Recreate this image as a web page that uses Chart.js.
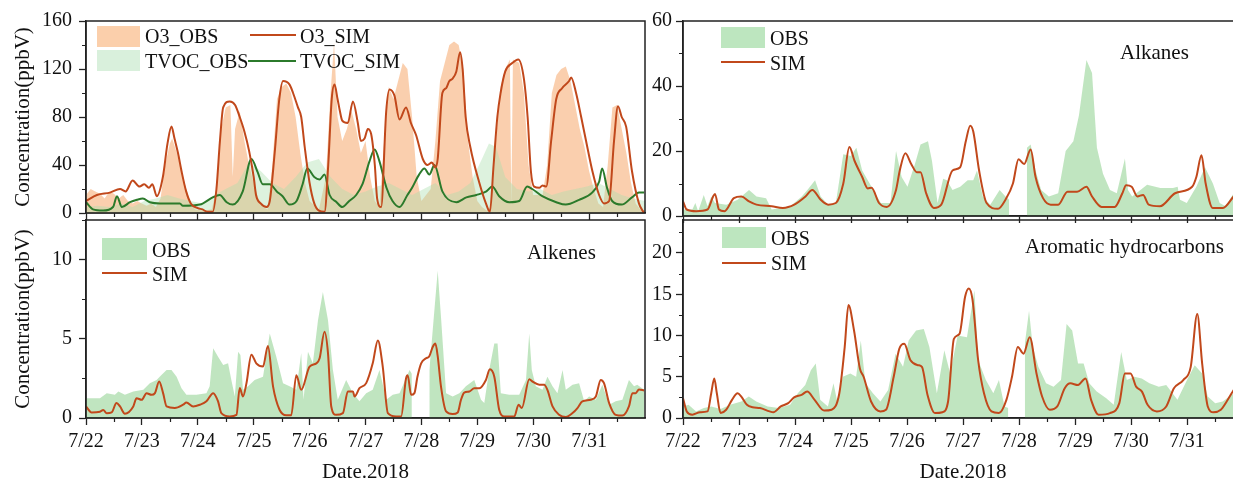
<!DOCTYPE html>
<html>
<head>
<meta charset="utf-8">
<script src="https://cdn.jsdelivr.net/npm/chart.js@4.4.0/dist/chart.umd.min.js"></script>
<style>
  html, body { margin: 0; padding: 0; background: #fff; overflow: hidden; }
  #wrap { position: relative; width: 1233px; height: 485px; overflow: hidden;
          font-family: "Liberation Serif", "Times New Roman", serif; color: #111; }
  canvas { position: absolute; }
  .txt { position: absolute; font-size: 20px; line-height: 20px; white-space: nowrap; }
  .patch { position: absolute; }
  .ln { position: absolute; height: 2px; }
</style>
</head>
<body>
<div id="wrap">
  <canvas id="tl" width="660" height="232" style="left:0;top:0"></canvas>
  <canvas id="tr" width="618" height="232" style="left:640px;top:0"></canvas>
  <canvas id="bl" width="660" height="285" style="left:0;top:200px"></canvas>
  <canvas id="br" width="618" height="285" style="left:640px;top:200px"></canvas>

  <!-- top-left legend -->
  <div class="patch" style="left:97px;top:26px;width:43px;height:21px;background:#fbcfab"></div>
  <div class="txt" style="left:145px;top:26px">O3_OBS</div>
  <div class="ln" style="left:250px;top:34px;width:46px;background:#c1481b"></div>
  <div class="txt" style="left:300px;top:26px">O3_SIM</div>
  <div class="patch" style="left:97px;top:50px;width:43px;height:21px;background:#d9f0dc"></div>
  <div class="txt" style="left:145px;top:51px">TVOC_OBS</div>
  <div class="ln" style="left:248px;top:60px;width:48px;background:#2b7a2b"></div>
  <div class="txt" style="left:300px;top:51px">TVOC_SIM</div>

  <!-- top-right legend -->
  <div class="patch" style="left:721px;top:27px;width:44px;height:21px;background:#bde6bf"></div>
  <div class="txt" style="left:770px;top:28px">OBS</div>
  <div class="ln" style="left:721px;top:61px;width:44px;background:#c1481b"></div>
  <div class="txt" style="left:770px;top:53px">SIM</div>
  <div class="txt" style="left:1120px;top:42px;font-size:21px">Alkanes</div>

  <!-- bottom-left legend -->
  <div class="patch" style="left:102px;top:238px;width:45px;height:22px;background:#bde6bf"></div>
  <div class="txt" style="left:152px;top:240px">OBS</div>
  <div class="ln" style="left:102px;top:272px;width:45px;background:#c1481b"></div>
  <div class="txt" style="left:152px;top:264px">SIM</div>
  <div class="txt" style="left:527px;top:242px;font-size:21px">Alkenes</div>

  <!-- bottom-right legend -->
  <div class="patch" style="left:722px;top:227px;width:44px;height:21px;background:#bde6bf"></div>
  <div class="txt" style="left:771px;top:228px">OBS</div>
  <div class="ln" style="left:722px;top:262px;width:44px;background:#c1481b"></div>
  <div class="txt" style="left:771px;top:253px">SIM</div>
  <div class="txt" style="left:1025px;top:236px;font-size:21px">Aromatic hydrocarbons</div>
</div>

<script>
const SERIF = '"Liberation Serif", "Times New Roman", serif';

// x axis: hours since 7/22 00:00
const dayTicks = [0, 24, 48, 72, 96, 120, 144, 168, 192, 216];
const dayLabels = ['7/22', '7/23', '7/24', '7/25', '7/26', '7/27', '7/28', '7/29', '7/30', '7/31'];

const o3Ticks = [0, 40, 80, 120, 160];
const alkaneTicks = [0, 20, 40, 60];
const alkeneTicks = [0, 5, 10];
const aromTicks = [0, 5, 10, 15, 20];

// [hour, ppbV]
const o3Obs = [[0,15],[2,20],[4,18],[6,16],[8,12],[10,18],[12,16],[14,12],[16,15],[18,10],[20,8],[22,10],[24,8],[26,6],[28,8],[30,5],[32,12],[34,40],[36,58],[37,62],[39,50],[41,35],[43,20],[45,8],[47,3],[50,2],[54,3],[56,20],[58,70],[60,88],[62,90],[63,30],[64,70],[66,85],[68,60],[70,40],[72,25],[74,12],[76,5],[78,3],[80,40],[82,95],[84,105],[86,108],[88,100],[90,80],[92,50],[94,25],[96,10],[100,3],[103,30],[105,100],[106.5,142],[108,80],[110,60],[112,70],[114,85],[116,70],[118,50],[120,60],[122,30],[124,10],[126,5],[128,60],[130,105],[132,95],[134,110],[136,125],[138,120],[140,80],[142,30],[144,10],[146,15],[148,20],[150,60],[152,110],[154,125],[156,140],[158,143],[160,140],[162,120],[164,60],[166,30],[168,10],[170,5],[172,2],[174,5],[176,60],[178,105],[180,120],[182,128],[182.6,5],[183.3,128],[186,125],[188,100],[190,40],[192,15],[196,15],[198,40],[200,100],[202,115],[204,120],[206,122],[208,110],[210,90],[212,70],[214,55],[216,35],[218,20],[220,8],[222,5],[224,40],[226,88],[228,90],[230,70],[232,50],[234,25],[236,8],[238,3],[240,2]];
const o3Sim = [[0,10],[4.7,15],[10.3,17],[14.6,20],[17,18],[20,27],[23,22],[25,24],[27,21],[28.5,24],[30.4,14],[33,30],[35,58],[36.7,72],[38,62],[39.5,50],[41,35],[43,18],[45,8],[48,4],[50,3],[52,1],[54.4,1],[56,20],[57.5,60],[58.9,88],[61.7,93],[64,90],[66,80],[68,68],[70,52],[72,30],[73,15],[75,8],[77.5,5],[78.9,10],[81,50],[83,95],[84.6,110],[87.4,107],[88.9,100],[91,88],[92.4,80],[93.9,55],[96,25],[98,8],[100,2],[102.4,1],[104,40],[105.5,95],[106.7,107],[108,95],[109,85],[110,77],[112.4,75],[114.6,93],[116.7,75],[118,60],[119.6,62],[121,70],[122.4,66],[124,40],[125,12],[126.7,5],[128.9,85],[130.3,103],[132.4,98],[134.6,78],[137.4,88],[139.5,75],[141.7,65],[144.6,45],[146.6,40],[148.5,42],[150,38],[151,45],[153,100],[154.6,104],[156,110],[157.4,112],[159,118],[160.6,134],[161.7,120],[163,80],[165,55],[168.9,25],[171.7,8],[173.4,1],[175,40],[176.6,80],[178,100],[180,118],[183,125],[185.6,128],[188,112],[189.6,80],[191,35],[192.4,22],[194.6,21],[196,23],[197.6,22],[199.7,60],[201.9,95],[204.4,104],[207.4,110],[208.3,113],[210.4,100],[212.6,80],[214.7,60],[217.4,35],[220.3,15],[222.4,8],[224.6,10],[226.7,60],[228.4,89],[230,80],[231.9,72],[234.4,35],[237.4,8],[239.6,0]];
const tvocObs = [[0,5],[5,6],[10,5],[15,8],[20,5],[25,10],[30,12],[35,15],[40,12],[45,10],[50,8],[55,15],[60,20],[65,25],[70,42],[75,35],[80,25],[85,20],[90,30],[95,42],[100,45],[105,30],[110,20],[115,15],[120,18],[125,22],[130,25],[135,20],[140,15],[145,20],[150,25],[155,15],[160,18],[165,25],[170,45],[173,58],[176,55],[180,30],[185,20],[190,18],[195,20],[200,15],[205,18],[210,20],[215,22],[220,25],[225,20],[230,15],[235,12],[240,10]];
const tvocSim = [[0,9],[3,3],[7.3,2],[11.6,5],[13.3,14],[15.4,5],[18.9,9],[21.9,11],[24.4,12],[27.4,9],[31.7,8],[40.3,8],[41.6,6],[48.9,7],[54.4,13],[57.4,15],[60.4,9],[63,7],[67.3,18],[71,45],[73.7,34],[75.9,24],[78.9,24],[81.9,18],[84.4,14],[87.4,7],[90.4,10],[93,24],[95,37],[98,30],[100.3,28],[102.4,32],[104.6,15],[107.6,9],[110,5],[113,10],[116,15],[118.7,24],[121.7,43],[123.9,53],[126,43],[129,21],[131.6,10],[134.6,5],[138,15],[140,21],[143,32],[145.3,37],[147.4,32],[149.6,40],[153,18],[159,9],[163.3,13],[167.6,15],[171.9,18],[174.4,22],[177.4,14],[181.7,9],[186,10],[189.4,22],[191.6,20],[195.9,14],[201.9,9],[206,7],[211.7,11],[217.3,17],[220.3,26],[221.6,37],[223.7,21],[225.9,10],[230,7],[234.4,13],[237.4,17],[239.6,17]];

const alkaneObs = [[0,2],[4,2],[5.3,4],[6.5,1.5],[8.9,6.5],[10.5,3],[12.1,6],[13.7,4],[18.6,3.5],[23.4,5],[28.3,8],[31.5,6],[35.6,5.5],[38,2],[46,3],[50.9,6],[53.3,8],[56.6,11],[59,6],[62.2,3.5],[65.5,4],[68.7,19],[71.9,18.5],[74.3,21],[76.8,14],[80,10],[84.8,4],[88.9,4],[91.3,20],[93.7,12],[96.2,9],[99.4,16],[101.8,22],[105,23],[106.7,17],[109.1,4],[111.5,11.5],[113.1,11],[115.5,8],[118.8,9],[122,11],[124.4,11],[126,14],[128.5,6],[131.7,3.5],[135.7,8],[138.2,6],[139.8,5],[140,null],[147.4,21],[149,22],[151.1,14],[153.5,8],[156.8,6],[160.8,7],[164,20],[167.3,23],[169.7,31],[172.9,48],[175.3,44],[177.4,21],[180,13],[183,8],[185.9,7],[189.4,17.7],[190.7,8],[192.5,6],[198.9,9.6],[204.6,8.6],[210,8.6],[212,9],[213,5],[215.9,4],[220,9],[223.7,15],[227.1,10],[230,4],[232.5,3],[236,7]];
const alkaneSim = [[0,4.5],[1.6,2],[5.7,1.5],[10.5,2],[12.9,6],[13.7,6.8],[15.4,2],[17.8,1.5],[21.8,5.5],[25,6],[28.3,4.5],[31.5,3.5],[38,3],[42.8,2.5],[47.7,3.5],[52.5,6],[55.4,8],[59,5],[62.2,3.5],[65.5,4],[68.7,10],[71.3,21.2],[73.5,17],[76.8,12],[79.2,8.5],[80.8,8.7],[84,4],[87.3,2.8],[91.3,8],[92.9,14],[95.3,19.3],[97.8,16],[100.2,13.5],[101.8,13.5],[104.2,7],[107.5,2.5],[110.7,3.5],[115.5,14],[118.8,15],[121.2,23],[123.1,27.8],[124.4,26],[126.9,14],[130.1,4],[135,2.2],[138.2,5],[141.4,10],[143.8,17.5],[146.2,16],[149,20.5],[151.1,12],[154.3,5.5],[157.6,3.5],[160.8,3.5],[164.8,7.5],[168.9,7.5],[172.9,9],[175.3,6],[179.4,2.8],[185,2.8],[188.3,7],[189.9,9.5],[192.3,9],[194.7,6],[197.2,6.5],[199.6,3.5],[204.4,3],[210.9,7],[218.2,9],[220,12],[222.2,18.7],[224,10],[227,2.5],[231.4,2.5],[236,6]];

const alkeneObs = [[0,1.25],[6,1.25],[8.9,1.57],[12.4,1.46],[13.9,1.67],[16.7,1.46],[20.3,1.67],[24.6,1.78],[27.4,2.2],[30.3,2.4],[32.4,2.72],[34.6,3.03],[36.7,3.03],[38.9,2.6],[41,1.88],[43.1,1.46],[47.4,1.46],[51.7,1.57],[53.1,2.0],[54.6,4.4],[56.7,3.87],[58.9,3.35],[61,3.45],[62.4,2.4],[63.9,1.36],[65.3,4.18],[66.3,3.97],[67.4,1.78],[69.6,2.0],[72.4,2.4],[76,2.6],[78.9,5.33],[81.7,3.87],[84.6,2.2],[87.4,2.0],[90.3,1.78],[92.4,4.08],[93.4,1.15],[95.3,4.18],[97.4,3.45],[99.6,6.17],[101.7,7.95],[103.9,6.17],[106,3.03],[108.1,1.15],[111.7,2.4],[114.6,1.57],[117.4,1.05],[120.3,1.57],[123.1,1.78],[126,3.03],[128.9,1.15],[131.7,1.46],[134.6,1.57],[138.9,3.03],[139.9,2.8],[140,null],[147.4,3.0],[151,9.3],[152.4,6.4],[154.6,1.57],[157.4,1.36],[160.3,1.57],[163.1,2.0],[166.7,2.4],[169.6,1.15],[171,0.94],[173.1,3.03],[175.3,4.7],[176.7,4.7],[178.1,1.57],[181.7,1.46],[186,1.46],[188.9,2.4],[190.3,5.33],[191.4,3.03],[193.1,2.0],[196,1.78],[198.1,2.6],[200.3,2.0],[202.4,1.57],[204.6,3.03],[206,1.78],[208.9,2.1],[211.7,2.2],[213.9,1.05],[216,1.36],[218.9,1.15],[221.7,2.1],[224.6,0.84],[227.4,1.05],[230.3,1.15],[233.1,2.4],[235.3,2.0],[236.7,2.1],[239.6,1.78]];
const alkeneSim = [[0,0.73],[2.4,0.35],[6,0.4],[7.4,0.5],[8.9,0.3],[11,0.35],[13.1,0.95],[14.6,0.73],[16.7,0.27],[20.3,0.73],[21.7,1.25],[23.9,1.15],[26,1.57],[28.1,1.46],[29.6,1.57],[31.4,2.3],[33.1,1.57],[34.6,0.73],[38.1,0.63],[41.7,0.84],[43.1,0.98],[46,0.73],[48.9,0.84],[51.7,1.05],[54.6,1.57],[56.7,1.05],[58.1,0.31],[61.7,0.1],[64.6,0.2],[66,1.9],[67.4,1.36],[68.9,2.2],[71,4.0],[73.1,3.45],[76,3.25],[78.1,4.55],[80.3,2.0],[83.1,0.52],[86,0.17],[88.1,0.17],[90.3,2.7],[92.4,1.78],[96,3.25],[98.9,3.45],[100.3,3.77],[102.4,5.44],[103.9,4.08],[105.3,0.73],[107.4,0.2],[110.3,0.31],[112.4,1.67],[114.6,1.67],[115.3,1.36],[117.4,1.88],[120.3,2.2],[123.1,3.45],[125.3,4.9],[127.4,3.25],[129.6,0.31],[133.1,0.1],[135.3,0.1],[137.4,2.5],[138.1,2.7],[139.6,1.46],[141,1.57],[142.3,2.6],[143.9,3.45],[146,3.77],[147.4,3.9],[148.9,4.5],[150,4.7],[151,3.9],[152.4,2.0],[154.6,0.42],[157.4,0.25],[159.6,0.35],[161,1.15],[162.4,1.6],[164.6,1.67],[166.7,1.88],[168.9,1.88],[171.7,2.4],[173.4,3.07],[175.3,2.6],[177.4,0.52],[179.6,0.1],[183.9,0.1],[185.7,0.84],[187.1,0.63],[190.3,2.45],[191.7,2.3],[194.6,2.1],[196.7,2.1],[198.1,1.78],[200.3,0.73],[203.1,0.2],[206,0.06],[208.9,0.31],[211,0.63],[213.1,1.05],[216.7,1.15],[218.9,1.36],[221,2.4],[222.4,2.2],[224.6,0.94],[227.4,0.2],[230.3,0.15],[233.1,0.73],[234.6,1.57],[236,1.57],[237.4,1.8],[239.6,1.74]];

const aromObs = [[0,1.4],[2.4,1.6],[5.6,0.8],[8.9,1.2],[12.1,1.4],[16.1,1.1],[20.2,1.6],[25,2.0],[28.2,2.6],[31.4,2.0],[36.3,1.4],[41.1,1.2],[45.9,1.6],[49.2,3.0],[52.4,4],[54.8,5.8],[56.9,6.6],[58.8,2.2],[62.1,1.4],[64.5,4.2],[66.1,2],[68.5,5],[71.7,5.4],[74.2,5],[76.2,9.4],[78.2,4.2],[81.4,3],[84.6,2],[87.9,3.4],[91.1,7.8],[94.3,6.2],[96.7,9.4],[99.9,10.6],[103.2,10.8],[105.6,8.6],[108.8,3],[112,8.2],[114.5,5.4],[117.7,10],[121.7,9.8],[124.9,15.5],[126.5,7],[129.8,4.6],[133,3],[135.4,4.6],[137.8,1.4],[139.4,1.2],[139.5,null],[146.5,9.0],[148.3,13],[149.9,8.6],[152.3,6.2],[155.6,4.2],[158.8,3.8],[162,4.6],[164.4,11.4],[166.8,10.6],[169.3,6.6],[171.7,6.6],[174.1,4.2],[177.3,3.2],[181.4,2.4],[184.6,1.6],[187.8,8],[190.2,4.6],[193.4,5],[196.6,4.8],[199.9,4.2],[203.9,3.8],[207.1,4],[211.9,2.2],[216,4.6],[219.3,6.4],[222.5,5.4],[224.9,2.6],[228.1,1.8],[231.3,2.0],[236,3.0]];
const aromSim = [[0,2.4],[1.6,0.8],[4,0.4],[7.3,0.7],[10.5,0.8],[12.1,3],[13.4,4.8],[14.5,3],[16.1,0.6],[18.5,1.0],[21,2.2],[23.4,3.0],[25,2.6],[27.4,1.6],[29.8,1.3],[33,1.2],[37.1,0.8],[38.7,0.7],[41.9,1.4],[45.1,1.8],[47.6,2.5],[50.8,2.8],[53.2,3.2],[56.4,2.2],[60.5,0.9],[63.7,1.0],[67,3],[69.3,8.6],[70.9,13.7],[73.3,10.6],[75.8,6],[77.4,5],[80.6,2],[84.6,0.8],[87,1.0],[90.3,5],[92.7,8.4],[94.8,9.0],[97.5,7],[100.8,6.4],[102.4,6.2],[104.8,2.8],[108,0.6],[111.2,0.7],[113.6,2],[116.1,9.6],[118.5,10.2],[120.9,14.7],[122.5,15.7],[124.1,14.3],[126.5,7],[129,3],[132.2,0.8],[135.4,0.6],[138.6,2.2],[141,5],[143.5,8.6],[145.9,7.8],[148.6,9.8],[151.5,5.4],[153.9,2.6],[157.2,1.0],[160.4,1.4],[163.6,3.6],[166,4.2],[169.3,4.0],[172.5,4.8],[174.9,2.2],[178.1,0.4],[183,0.6],[187,1.8],[189.4,5.4],[191.8,5.4],[194.2,3.8],[196.7,3.2],[199.1,1.6],[203.1,0.8],[207.1,1.4],[210.4,3.6],[214.4,4.6],[217.6,6.2],[220.4,12.6],[222.5,6.6],[224.9,1.4],[227.3,0.7],[230.5,1.0],[233,2.0],[236,3.4]];

const SIM_COLOR = '#c1481b';
const TVOC_SIM_COLOR = '#2b7a2b';
const OBS_FILL = 'rgba(140, 208, 140, 0.55)';

const pts = arr => arr.map(([x, y]) => ({ x, y }));

function minorValues(max, step, major) {
  const out = [];
  for (let v = step; v <= max + 1e-9; v += step) {
    if (Math.abs(v / major - Math.round(v / major)) > 1e-6) out.push(v);
  }
  return out;
}

// box frame + short minor ticks
const framePlugin = {
  id: 'frame',
  afterDraw(chart, args, opts) {
    const { ctx, chartArea: a, scales } = chart;
    ctx.save();
    ctx.strokeStyle = '#222';
    ctx.lineWidth = 1.5;
    ctx.strokeRect(a.left, a.top, a.right - a.left, a.bottom - a.top);
    ctx.lineWidth = 1.2;
    ctx.beginPath();
    for (let h = 12; h < 240; h += 24) {
      const px = Math.round(scales.x.getPixelForValue(h)) + 0.5;
      ctx.moveTo(px, a.bottom);
      ctx.lineTo(px, a.bottom + 4);
    }
    for (const v of opts.yMinor || []) {
      const py = Math.round(scales.y.getPixelForValue(v)) + 0.5;
      ctx.moveTo(a.left - 4, py);
      ctx.lineTo(a.left, py);
    }
    ctx.stroke();
    ctx.restore();
  }
};

function obsSet(data, color, order) {
  return { data: pts(data), fill: 'origin', backgroundColor: color, borderWidth: 0,
           pointRadius: 0, tension: 0, spanGaps: false, order };
}
function simSet(data, color, order) {
  return { data: pts(data), fill: false, borderColor: color, borderWidth: 2,
           pointRadius: 0, cubicInterpolationMode: 'monotone', order };
}

function makePanel(id, cfg) {
  return new Chart(document.getElementById(id), {
    type: 'line',
    data: { datasets: cfg.datasets },
    options: {
      responsive: false,
      animation: false,
      events: [],
      layout: { padding: { top: cfg.padTop, right: 15, left: 0, bottom: 0 } },
      plugins: { legend: { display: false }, tooltip: { enabled: false }, frame: { yMinor: cfg.yMinor } },
      scales: {
        x: {
          type: 'linear', min: 0, max: 240,
          afterBuildTicks: s => { s.ticks = dayTicks.map(v => ({ value: v })); },
          afterFit: s => { s.height = cfg.xHeight; },
          grid: { drawOnChartArea: false, drawTicks: true, tickLength: 7, tickColor: '#222', tickWidth: 1.3 },
          border: { display: true, color: '#222', width: 1.5 },
          ticks: { display: cfg.showX, autoSkip: false, maxRotation: 0, padding: 5, color: '#111',
                   font: { family: SERIF, size: 20 }, callback: (v, i) => dayLabels[i] },
          title: { display: cfg.showX, text: 'Date.2018', color: '#111',
                   font: { family: SERIF, size: 21 }, padding: { top: 0, bottom: 0 } }
        },
        y: {
          min: 0, max: cfg.yMax,
          afterBuildTicks: s => { s.ticks = cfg.yTicks.map(v => ({ value: v })); },
          afterFit: s => { s.width = cfg.yWidth; },
          grid: { drawOnChartArea: false, drawTicks: true, tickLength: 7, tickColor: '#222', tickWidth: 1.3 },
          border: { display: true, color: '#222', width: 1.5 },
          ticks: { padding: cfg.yPad, color: '#111', font: { family: SERIF, size: 20 } },
          title: { display: !!cfg.yTitle, text: 'Concentration(ppbV)', color: '#111',
                   font: { family: SERIF, size: 21 }, padding: { top: 11, bottom: 0 } }
        }
      }
    },
    plugins: [framePlugin]
  });
}

makePanel('tl', {
  padTop: 21, xHeight: 13, showX: false, yWidth: 86, yPad: 7, yTitle: true,
  yMax: 160, yTicks: o3Ticks, yMinor: minorValues(160, 20, 40),
  datasets: [
    obsSet(o3Obs, 'rgba(247, 175, 120, 0.6)', 3),
    obsSet(tvocObs, 'rgba(170, 222, 172, 0.4)', 2),
    simSet(tvocSim, TVOC_SIM_COLOR, 1),
    simSet(o3Sim, SIM_COLOR, 0)
  ]
});

makePanel('tr', {
  padTop: 21, xHeight: 13, showX: false, yWidth: 43, yPad: 4, yTitle: false,
  yMax: 60, yTicks: alkaneTicks, yMinor: minorValues(60, 10, 20),
  datasets: [ obsSet(alkaneObs, OBS_FILL, 1), simSet(alkaneSim, SIM_COLOR, 0) ]
});

makePanel('bl', {
  padTop: 20, xHeight: 67, showX: true, yWidth: 86, yPad: 7, yTitle: true,
  yMax: 12.5, yTicks: alkeneTicks, yMinor: minorValues(12.5, 2.5, 5),
  datasets: [ obsSet(alkeneObs, OBS_FILL, 1), simSet(alkeneSim, SIM_COLOR, 0) ]
});

makePanel('br', {
  padTop: 20, xHeight: 67, showX: true, yWidth: 43, yPad: 4, yTitle: false,
  yMax: 24, yTicks: aromTicks, yMinor: minorValues(24, 2.5, 5),
  datasets: [ obsSet(aromObs, OBS_FILL, 1), simSet(aromSim, SIM_COLOR, 0) ]
});
</script>
</body>
</html>
